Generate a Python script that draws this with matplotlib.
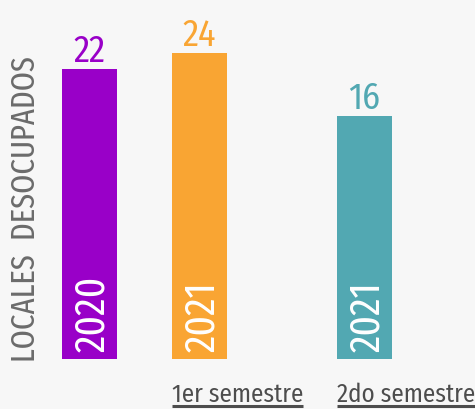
import matplotlib
matplotlib.use("Agg")
import matplotlib.pyplot as plt
from matplotlib.lines import Line2D

FONT = ['Fira Sans Condensed', 'DejaVu Sans']
FONT_XC = ['Fira Sans Extra Condensed', 'Fira Sans Condensed', 'DejaVu Sans']

values = [22, 24, 16]
years = ["2020", "2021", "2021"]
periods = ["", "1er semestre", "2do semestre"]
positions = [0, 2, 5]
colors = ["#9900c8", "#f9a533", "#52a8b2"]
ylabel = "LOCALES  DESOCUPADOS"

base = -15.18
W, H = 475, 410
PT = 72 / 100  # points per pixel
fig = plt.figure(figsize=(W / 100, H / 100), dpi=100, facecolor="#f7f7f7")
ax = fig.add_axes([0, 0, 1, 1])
ax.set_facecolor("#f7f7f7")
ax.set_xlim(-1.627, 7.009)
ax.set_ylim(-21.59, 30.97)
ax.axis("off")

for x, v, c, yr in zip(positions, values, colors, years):
    ax.bar(x, v - base, bottom=base, width=1.0, color=c)
    ax.annotate(str(v), (x, v), xytext=(0, 8 * PT), textcoords="offset points",
                ha="center", va="baseline", fontsize=26, color=c, family=FONT)
    ax.annotate(yr, (x, base), xytext=(15 * PT, 8 * PT), textcoords="offset points",
                ha="left", va="baseline", rotation=90, rotation_mode="anchor",
                fontsize=31, color="white", family=FONT_XC)

fig.text(35 / W, 1 - 209 / H, ylabel, rotation=90, rotation_mode="anchor",
         ha="center", va="baseline", fontsize=24, color="#6b6b6b", family=FONT_XC)

texts = []
for x, p in zip(positions, periods):
    if p:
        t = ax.annotate(p, (x - 0.5, base), xytext=(0, -42 * PT), textcoords="offset points",
                        ha="left", va="baseline", fontsize=18, color="#4d4d4d",
                        family=FONT)
        texts.append(t)

fig.canvas.draw()
r = fig.canvas.get_renderer()
for t in texts:
    bb = t.get_window_extent(r)
    y = (410 - 406.5) / H
    fig.add_artist(Line2D([bb.x0 / W, bb.x1 / W], [y, y],
                          transform=fig.transFigure, color="#4d4d4d", lw=2.2,
                          solid_capstyle="butt"))

fig.savefig("out.png", dpi=100, facecolor="#f7f7f7")
